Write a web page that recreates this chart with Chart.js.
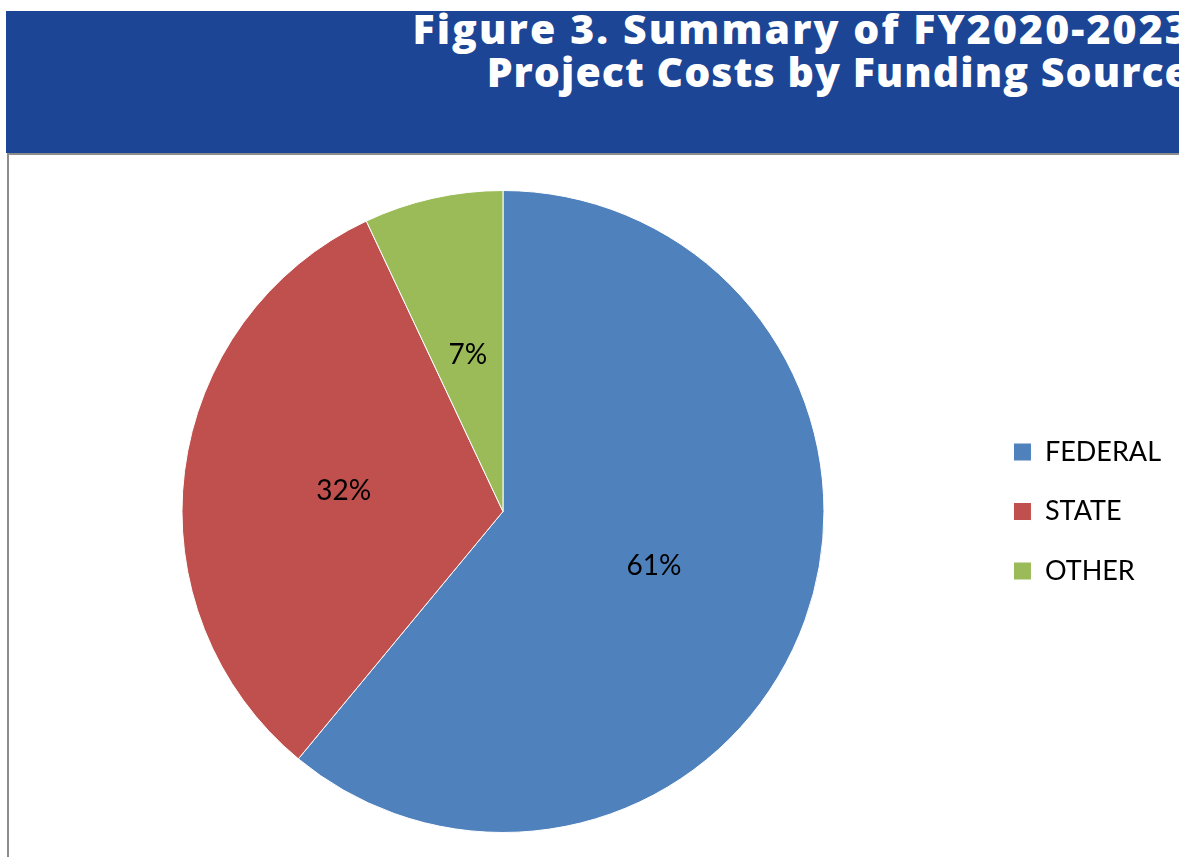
<!DOCTYPE html>
<html>
<head>
<meta charset="utf-8">
<script src="https://cdn.jsdelivr.net/npm/chart.js@4.4.1/dist/chart.umd.min.js"></script>
<style>
  html, body { margin: 0; padding: 0; background: #ffffff; width: 1179px; height: 857px; overflow: hidden; }
  #header { position: absolute; left: 6px; top: 11px; width: 1173px; height: 142px; background: #1c4595; overflow: hidden; }
  #title { position: absolute; right: -12px; top: -4px; color: #ffffff; font-family: "Open Sans", "DejaVu Sans", sans-serif; font-weight: 800; font-size: 41px; line-height: 43px; text-align: right; white-space: nowrap; }
  #l1 { letter-spacing: 2.1px; }
  #l2 { letter-spacing: 1.05px; }
  #box { position: absolute; left: 7px; top: 153px; width: 1172px; height: 704px; border-left: 2px solid #8c8c8c; border-top: 2px solid #8c8c8c; box-sizing: border-box; }
  #wrap { position: absolute; left: 2px; top: 2px; width: 1170px; height: 702px; }
</style>
</head>
<body>
<div id="header"><div id="title"><span id="l1">Figure 3. Summary of FY2020-2023</span><br><span id="l2">Project Costs by Funding Source</span></div></div>
<div id="box"><div id="wrap"><canvas id="c"></canvas></div></div>
<script>
const categories = ["FEDERAL", "STATE", "OTHER"];
const shares = [61, 32, 7];
const pctLabels = ["61%", "32%", "7%"];
const sliceColors = ["#4f81bd", "#c0504d", "#9bbb59"];

const labelPlugin = {
  id: "sliceLabels",
  afterDatasetsDraw(chart) {
    const ctx = chart.ctx;
    const meta = chart.getDatasetMeta(0);
    ctx.save();
    ctx.font = "28px Lato, 'Open Sans', sans-serif";
    ctx.fillStyle = "#000000";
    ctx.textAlign = "center";
    ctx.textBaseline = "middle";
    meta.data.forEach((arc, i) => {
      const p = arc.tooltipPosition();
      ctx.fillText(pctLabels[i], p.x, p.y);
    });
    ctx.restore();
  }
};

new Chart(document.getElementById("c"), {
  type: "pie",
  data: {
    labels: categories,
    datasets: [{
      data: shares,
      backgroundColor: sliceColors,
      borderColor: "#ffffff",
      borderWidth: 1
    }]
  },
  options: {
    responsive: true,
    maintainAspectRatio: false,
    animation: false,
    layout: { padding: { top: 33, bottom: 26, left: 14, right: 10 } },
    plugins: {
      tooltip: { enabled: false },
      legend: {
        position: "right",
        align: "center",
        labels: {
          boxWidth: 18,
          boxHeight: 18,
          padding: 32.5,
          color: "#000000",
          font: { family: "Lato, 'Open Sans', sans-serif", size: 27 }
        }
      }
    }
  },
  plugins: [labelPlugin]
});
</script>
</body>
</html>
